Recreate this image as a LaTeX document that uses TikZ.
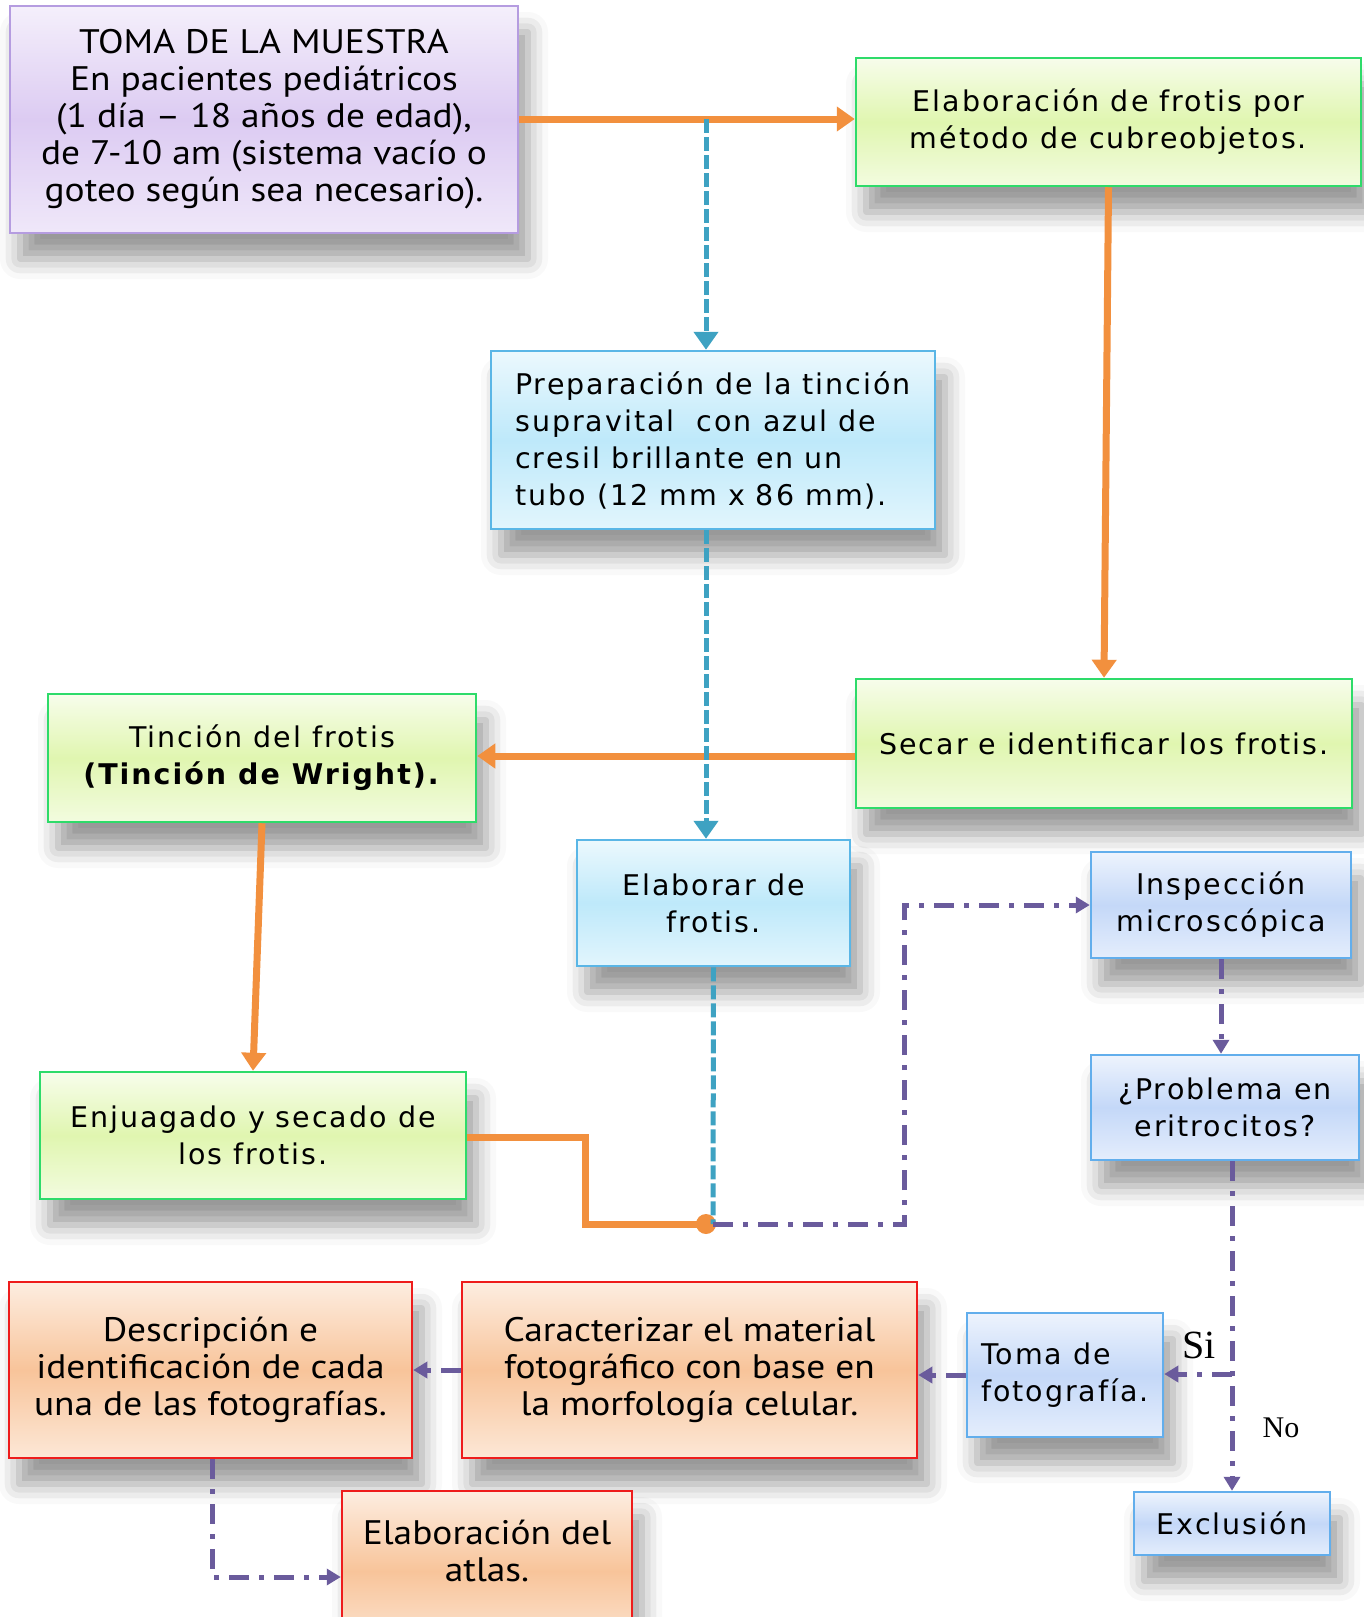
\documentclass[tikz,border=0pt]{standalone}
\usepackage{fontspec}
\setmainfont[LetterSpace=7]{DejaVu Sans}
\newfontfamily\narrowfont[FakeStretch=1.1]{PT Sans}
\newfontfamily\serfont{Liberation Serif}
\usetikzlibrary{arrows.meta,shadows.blur}

\definecolor{lavfill}{HTML}{DCCBF2}
\definecolor{lavline}{HTML}{B59CE0}
\definecolor{grnfill}{HTML}{E0F6B0}
\definecolor{grnline}{HTML}{2EDB6A}
\definecolor{cyanfill}{HTML}{BEE9FA}
\definecolor{cyanline}{HTML}{5AB6E6}
\definecolor{perifill}{HTML}{C4D8F8}
\definecolor{periline}{HTML}{62AEEC}
\definecolor{orfill}{HTML}{F8C49A}
\definecolor{orline}{HTML}{EE1C1C}
\definecolor{orarrow}{HTML}{F2903E}
\definecolor{bluearrow}{HTML}{3EA2C2}
\definecolor{purparrow}{HTML}{6A5B9C}

\tikzstyle{box} = [draw, line width=2.5pt, align=center, inner sep=4pt, font=\fontsize{28.5}{37}\selectfont, blur shadow={shadow xshift=10pt, shadow yshift=-26pt, shadow blur radius=20pt, shadow opacity=40}]
\tikzstyle{lavbox} = [box, draw=lavline, top color=lavfill!30!white, bottom color=lavfill!45!white, middle color=lavfill]
\tikzstyle{grnbox} = [box, draw=grnline, top color=grnfill!25!white, bottom color=grnfill!40!white, middle color=grnfill]
\tikzstyle{cyanbox} = [box, draw=cyanline, top color=cyanfill!30!white, bottom color=cyanfill!45!white, middle color=cyanfill]
\tikzstyle{peribox} = [box, draw=periline, top color=perifill!30!white, bottom color=perifill!45!white, middle color=perifill]
\tikzstyle{orbox} = [box, draw=orline, top color=orfill!30!white, bottom color=orfill!40!white, middle color=orfill]
\tikzstyle{narrowtext} = [font=\narrowfont\fontsize{34}{37}\selectfont]
\tikzstyle{orangeflow} = [draw=orarrow, line width=7pt]
\tikzstyle{blueflow} = [draw=bluearrow, line width=5pt, dash pattern=on 14pt off 4pt]
\tikzstyle{purpleflow} = [draw=purparrow, line width=5pt, dash pattern=on 20pt off 10pt on 5pt off 10pt]

\begin{document}
\begin{tikzpicture}[x=1pt, y=-1pt, >={Triangle[width=24pt,length=18pt]}]
	\useasboundingbox (0,0) rectangle (1363,1617);

	\node[lavbox, narrowtext, minimum width=508pt, minimum height=227pt] (toma) at (264,119.5) {TOMA DE LA MUESTRA\\En pacientes pediátricos\\(1 día – 18 años de edad),\\de 7-10 am (sistema vacío o\\goteo según sea necesario).};
	\node[grnbox, minimum width=505pt, minimum height=128pt] (elab) at (1108.5,122) {Elaboración de frotis por\\método de cubreobjetos.};
	\node[cyanbox, align=left, minimum width=444pt, minimum height=178pt] (prep) at (713,440) {Preparación de la tinción\\supravital\ \ con azul de\\cresil brillante en un\\tubo (12 mm x 86 mm).};
	\node[grnbox, minimum width=496pt, minimum height=129pt] (secar) at (1104,743.5) {Secar e identificar los frotis.};
	\node[grnbox, minimum width=428pt, minimum height=128pt] (tincion) at (262,758) {Tinción del frotis\\\textbf{(Tinción de Wright).}};
	\node[cyanbox, minimum width=273pt, minimum height=126pt] (elabor) at (713.5,903) {Elaborar de\\frotis.};
	\node[peribox, minimum width=260pt, minimum height=106pt] (insp) at (1221,905) {Inspección\\microscópica};
	\node[peribox, minimum width=268pt, minimum height=105pt] (prob) at (1225,1107.5) {¿Problema en\\eritrocitos?};
	\node[grnbox, minimum width=426pt, minimum height=127pt] (enjuag) at (253,1135.5) {Enjuagado y secado de\\los frotis.};
	\node[orbox, narrowtext, minimum width=403pt, minimum height=176pt] (desc) at (210.5,1370) {Descripción e\\identificación de cada\\una de las fotografías.};
	\node[orbox, narrowtext, minimum width=455pt, minimum height=176pt] (carac) at (689.5,1370) {Caracterizar el material\\fotográfico con base en\\la morfología celular.};
	\node[peribox, align=left, minimum width=196pt, minimum height=124pt] (foto) at (1065,1375) {Toma de\\fotografía.};
	\node[peribox, minimum width=196pt, minimum height=63pt] (excl) at (1232,1523.5) {Exclusión};
	\node[orbox, narrowtext, minimum width=290pt, minimum height=160pt, text depth=40pt] (atlas) at (487,1571) {Elaboración del\\atlas.};

	\node[font=\serfont\fontsize{40}{40}\selectfont] (si) at (1199,1345) {Si};
	\node[font=\serfont\fontsize{30}{30}\selectfont] (no) at (1281,1428) {No};

	\coordinate (split) at (706,119);
	\coordinate (meet) at (713,1224);
	\coordinate (fork) at (1232,1374);

	\draw[orangeflow, ->] (toma.east |- split) -- (split -| elab.west);
	\draw[orangeflow, ->] (elab.south) -- (secar.north);
	\draw[orangeflow, ->] (secar.west |- 0,756) -- (tincion.east |- 0,756);
	\draw[orangeflow, ->] (tincion.south) -- (enjuag.north);
	\draw[orangeflow] (enjuag.east |- 0,1137) -- (585,1137) -- (585,1224) -- (meet);
	\fill[orarrow] (706,1224) circle (10pt);

	\draw[blueflow, ->] (split) -- (split |- prep.north);
	\draw[blueflow, ->] (split |- prep.south) -- (split |- elabor.north);
	\draw[blueflow] (elabor.south) -- (meet);

	\draw[purpleflow, -{Triangle[width=16pt,length=14pt]}] (meet) -- (904,1224) |- (insp.west);
	\draw[purpleflow, -{Triangle[width=16pt,length=14pt]}] (insp.south) -- (insp.south |- prob.north);
	\draw[purpleflow, -{Triangle[width=16pt,length=14pt]}] (prob.south -| fork) -- (excl.north);
	\draw[purpleflow, -{Triangle[width=16pt,length=14pt]}] (fork) -- (foto.east |- fork);
	\draw[purpleflow, -{Triangle[width=16pt,length=14pt]}] (foto.west) -- (carac.east |- foto.west);
	\draw[purpleflow, -{Triangle[width=16pt,length=14pt]}] (carac.west) -- (desc.east);
	\draw[purpleflow, -{Triangle[width=16pt,length=14pt]}] (desc.south -| 212,0) |- (atlas.west |- 0,1577);
\end{tikzpicture}
\end{document}
